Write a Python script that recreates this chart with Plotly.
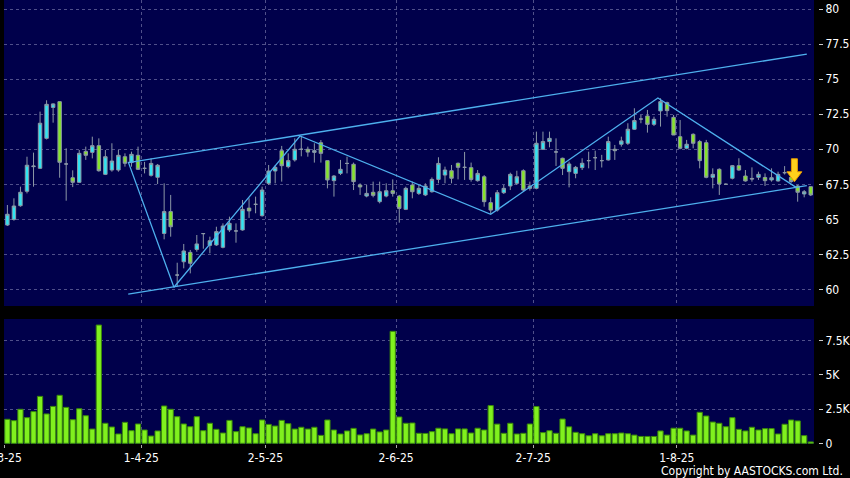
import plotly.graph_objects as go

# ---------------- data ----------------
tick_labels = ["3-3-25", "1-4-25", "2-5-25", "2-6-25", "2-7-25", "1-8-25"]
tick_index = [0, 21, 40, 60, 81, 103]   # session index of first trading day of each month

opens = [64.59, 64.99, 65.97, 67.00, 68.76, 68.64, 70.78, 72.99, 73.40, 68.95,
         67.97, 67.64, 69.85, 69.78, 70.26, 68.21, 68.52, 68.52, 69.47, 69.05,
         69.57, 68.64, 68.14, 68.00, 63.99, 65.55, 61.02, 61.97, 62.64, 62.85,
         63.98, 63.14, 63.17, 63.00, 64.24, 64.17, 64.24, 65.80, 66.07, 65.26,
         67.57, 68.45, 69.90, 68.76, 69.24, 70.00, 70.00, 69.78, 70.47, 69.19,
         67.76, 68.28, 68.99, 68.93, 67.45, 66.66, 66.93, 66.26, 66.66, 67.04,
         66.66, 65.71, 67.45, 66.85, 66.74, 66.97, 67.85, 68.16, 68.47, 69.00,
         68.71, 68.69, 67.76, 68.04, 66.19, 65.66, 66.90, 67.38, 67.57, 68.47,
         67.38, 67.21, 70.00, 70.55, 69.81, 69.36, 68.40, 68.28, 68.69, 69.19,
         69.40, 69.19, 69.24, 70.00, 70.36, 70.43, 71.43, 72.16, 72.38, 71.78,
         72.74, 73.33, 72.28, 70.90, 70.07, 71.07, 70.55, 70.47, 68.00, 68.57,
         67.50, 67.93, 68.83, 68.09, 67.92, 68.00, 67.99, 67.81, 67.74, 68.33,
         68.00, 67.38, 66.81, 67.33]
highs = [66.02, 66.50, 67.33, 69.47, 69.76, 72.69, 73.50, 73.28, 73.40, 70.07,
         68.50, 69.95, 70.19, 70.90, 70.78, 69.95, 70.43, 69.95, 69.71, 69.83,
         70.19, 69.10, 69.36, 68.95, 67.57, 66.74, 61.90, 63.24, 62.81, 63.88,
         64.00, 63.76, 64.47, 64.71, 65.19, 64.71, 66.38, 66.50, 66.62, 67.33,
         68.88, 68.88, 70.24, 69.71, 70.78, 70.90, 70.19, 70.43, 70.66, 69.19,
         68.16, 69.24, 69.47, 69.05, 67.57, 67.45, 67.69, 67.69, 67.57, 67.85,
         66.74, 67.33, 67.69, 67.45, 67.57, 67.99, 69.43, 68.76, 68.88, 69.05,
         69.81, 69.05, 68.52, 68.16, 66.57, 67.09, 67.45, 68.33, 68.47, 68.57,
         67.69, 71.26, 71.26, 71.26, 70.78, 69.40, 69.12, 68.81, 69.36, 69.83,
         69.90, 69.60, 70.90, 70.31, 70.90, 71.86, 72.93, 72.45, 72.81, 72.33,
         73.64, 73.40, 72.45, 72.09, 70.67, 71.14, 70.67, 70.67, 68.64, 68.64,
         67.57, 68.88, 69.36, 68.52, 68.71, 68.40, 68.28, 68.64, 68.40, 68.80,
         68.10, 67.45, 67.09, 67.33]
lows = [64.52, 64.90, 65.90, 66.85, 67.33, 68.59, 70.70, 71.90, 67.97, 66.33,
        67.30, 67.60, 69.24, 69.35, 68.40, 68.16, 68.40, 68.40, 68.76, 68.76,
        68.52, 68.28, 68.05, 67.52, 63.57, 63.76, 60.20, 61.50, 61.14, 62.69,
        62.90, 62.57, 63.10, 62.93, 64.10, 63.33, 64.19, 65.10, 65.43, 65.19,
        67.45, 67.57, 67.69, 68.64, 69.12, 69.50, 69.47, 69.05, 69.05, 67.21,
        66.62, 68.16, 68.28, 67.09, 66.74, 66.57, 66.57, 66.14, 66.57, 66.62,
        64.76, 65.66, 66.50, 66.74, 66.66, 66.90, 67.57, 67.57, 67.57, 67.85,
        67.81, 67.69, 67.69, 65.90, 65.38, 65.55, 66.81, 67.09, 67.45, 66.97,
        67.05, 67.14, 69.95, 70.14, 68.81, 68.16, 67.28, 67.93, 68.52, 68.64,
        68.52, 68.70, 69.19, 69.24, 70.19, 70.31, 71.38, 71.86, 71.19, 71.66,
        71.62, 72.33, 71.02, 70.00, 70.00, 70.07, 68.64, 67.93, 67.21, 66.74,
        67.45, 67.85, 68.47, 67.69, 67.69, 67.81, 67.38, 67.69, 67.69, 68.20,
        67.60, 66.26, 66.57, 66.66]
closes = [65.36, 65.95, 66.93, 68.86, 68.80, 71.86, 73.21, 73.24, 69.07, 68.95,
          67.64, 69.71, 69.57, 70.26, 68.47, 69.47, 69.16, 69.57, 69.00, 69.64,
          68.57, 68.64, 68.99, 68.86, 65.55, 64.47, 61.02, 62.74, 61.86, 63.24,
          63.98, 63.47, 64.12, 64.52, 64.71, 64.17, 65.71, 65.60, 66.07, 67.09,
          68.45, 68.71, 68.83, 69.19, 70.00, 70.00, 69.80, 69.90, 69.71, 67.81,
          68.09, 68.57, 68.99, 67.69, 67.31, 66.85, 66.71, 66.97, 67.04, 66.85,
          65.78, 67.21, 66.97, 67.21, 67.38, 67.85, 68.99, 68.52, 67.93, 68.71,
          68.71, 67.85, 68.28, 66.26, 65.66, 66.90, 67.21, 68.21, 68.04, 67.09,
          67.21, 70.43, 70.55, 70.78, 69.81, 68.64, 68.95, 68.71, 69.00, 69.19,
          69.40, 69.19, 70.55, 69.90, 70.60, 71.43, 72.05, 72.16, 71.78, 72.14,
          73.40, 72.76, 71.02, 70.07, 70.36, 70.43, 69.19, 68.00, 68.21, 67.52,
          67.50, 68.83, 68.52, 67.74, 67.88, 68.21, 67.76, 67.97, 68.21, 68.33,
          67.70, 66.93, 66.97, 66.74]
volume_k = [1.75, 1.65, 2.48, 1.87, 2.31, 3.42, 2.14, 2.69, 3.50, 2.62,
            1.72, 2.52, 2.01, 1.04, 8.62, 1.46, 1.19, 0.68, 1.53, 0.92,
            1.41, 0.97, 0.53, 0.90, 2.72, 2.48, 1.94, 1.41, 1.21, 1.94,
            0.92, 1.46, 1.02, 0.75, 1.67, 0.85, 1.21, 1.12, 0.70, 1.70,
            1.38, 1.26, 1.67, 1.43, 1.04, 1.17, 1.04, 1.17, 0.58, 1.70,
            0.97, 0.68, 0.90, 1.09, 0.61, 0.70, 1.04, 0.83, 0.97, 8.16,
            1.92, 1.46, 1.48, 0.73, 0.72, 0.85, 1.10, 1.05, 0.70, 1.05,
            1.05, 0.75, 1.10, 0.97, 2.75, 1.40, 0.73, 1.46, 0.68, 0.73,
            1.41, 2.68, 0.78, 0.92, 0.73, 1.77, 1.20, 0.80, 0.70, 0.55,
            0.70, 0.55, 0.70, 0.70, 0.75, 0.70, 0.60, 0.50, 0.50, 0.50,
            0.90, 0.60, 1.10, 1.10, 0.90, 0.60, 2.26, 1.99, 1.55, 1.46,
            1.21, 1.87, 1.02, 0.90, 1.17, 0.97, 1.07, 1.07, 0.68, 1.39,
            1.70, 1.63, 0.56, 0.10]

zigzag_idx = [18.5, 25.5, 44.8, 74.0, 99.6, 120.7]
zigzag_px = [69.10, 60.15, 70.95, 65.36, 73.66, 67.30]
channel_idx = [18.5, 122.4]
upper_px = [69.05, 76.80]
lower_px = [59.66, 67.40]
signal_idx = [120.5]
signal_px = [67.68]

price_ticks = [60, 62.5, 65, 67.5, 70, 72.5, 75, 77.5, 80]
vol_ticks = [0, 2.5, 5, 7.5]
vol_tick_text = ["0", "2.5K", "5K", "7.5K"]

# ---------------- figure ----------------
idx = list(range(len(opens)))
FONT = "DejaVu Sans Condensed, Liberation Sans Narrow, DejaVu Sans, sans-serif"
NAVY = "#00004b"
GRID = "#50508a"
LINE = "#4eb0ee"

fig = go.Figure()

fig.add_trace(go.Candlestick(
    x=idx, open=opens, high=highs, low=lows, close=closes,
    increasing=dict(fillcolor="#30e4f2", line=dict(color="#8c98a6", width=1)),
    decreasing=dict(fillcolor="#86e42a", line=dict(color="#8c98a6", width=1)),
    whiskerwidth=0, showlegend=False, hoverinfo="skip",
    xaxis="x", yaxis="y"))

for xs, ys in [(channel_idx, upper_px), (channel_idx, lower_px), (zigzag_idx, zigzag_px)]:
    fig.add_trace(go.Scatter(x=xs, y=ys, mode="lines",
                             line=dict(color=LINE, width=1.3),
                             showlegend=False, hoverinfo="skip",
                             xaxis="x", yaxis="y"))

fig.add_trace(go.Bar(
    x=idx, y=volume_k,
    marker=dict(color="#80f01e", line=dict(color="#3a8a0a", width=1)),
    showlegend=False, hoverinfo="skip", xaxis="x2", yaxis="y2"))

# signal arrow (pixel-sized shape anchored at the signal point)
for sx, sy in zip(signal_idx, signal_px):
    fig.add_shape(type="path", xref="x", yref="y",
                  xsizemode="pixel", ysizemode="pixel",
                  xanchor=sx, yanchor=sy,
                  path="M0,0 L-7.5,10 L-3,10 L-3,23 L3,23 L3,10 L7.5,10 Z",
                  fillcolor="#ffd21c", line=dict(color="#e89a00", width=1),
                  layer="above")

W, H = 850, 478
ml, mr, mt, mb = 4, 32, 0, 34
plot_w = W - ml - mr
plot_h = H - mt - mb
x_dom_end = 810 / plot_w

grid_x = [i - 0.5 for i in tick_index]

common_x = dict(range=[-0.52, len(opens) - 0.5], domain=[0, x_dom_end],
                showgrid=True, gridcolor=GRID, griddash="3px,3px", gridwidth=1,
                tickvals=grid_x, zeroline=False, showline=False,
                rangeslider=dict(visible=False), automargin=False)

fig.update_layout(
    width=W, height=H,
    margin=dict(l=ml, r=mr, t=mt, b=mb),
    paper_bgcolor="black", plot_bgcolor=NAVY,
    font=dict(family=FONT, color="white", size=12),
    boxgap=0.25, bargap=0.2,
    xaxis=dict(**common_x, anchor="y", showticklabels=False, ticks=""),
    xaxis2=dict(**common_x, anchor="y2", ticktext=tick_labels, ticks="outside",
                ticklen=3, tickcolor="#aaaaaa", ticklabeloverflow="allow",
                tickfont=dict(size=12, color="white", family=FONT)),
    yaxis=dict(domain=[(plot_h - 306) / plot_h, 1], range=[58.81, 80.66],
               side="right", anchor="free", position=1,
               tickvals=price_ticks, ticktext=[f"{v:g}" for v in price_ticks],
               ticks="outside", ticklen=4, tickcolor="#cccccc",
               showgrid=True, gridcolor=GRID, griddash="3px,3px", gridwidth=1,
               zeroline=False, showline=False, automargin=False,
               tickfont=dict(size=12, color="white", family=FONT)),
    yaxis2=dict(domain=[0, (plot_h - 319) / plot_h], range=[-0.05, 9.06],
                side="right", anchor="free", position=1,
                tickvals=vol_ticks, ticktext=vol_tick_text,
                ticks="outside", ticklen=4, tickcolor="#cccccc",
                showgrid=True, gridcolor=GRID, griddash="3px,3px", gridwidth=1,
                zeroline=False, showline=False, automargin=False,
                tickfont=dict(size=12, color="white", family=FONT)),
    annotations=[dict(text="Copyright by AASTOCKS.com Ltd.", xref="paper", yref="paper",
                      x=(845 - ml) / plot_w, y=(plot_h - 471) / plot_h,
                      xanchor="right", yanchor="middle", showarrow=False,
                      font=dict(size=12, color="white", family=FONT))],
)

fig.write_html("out.html", config={"displayModeBar": False},
               post_script="document.body.style.margin='0px';document.body.style.padding='0px';document.body.style.background='black';")
